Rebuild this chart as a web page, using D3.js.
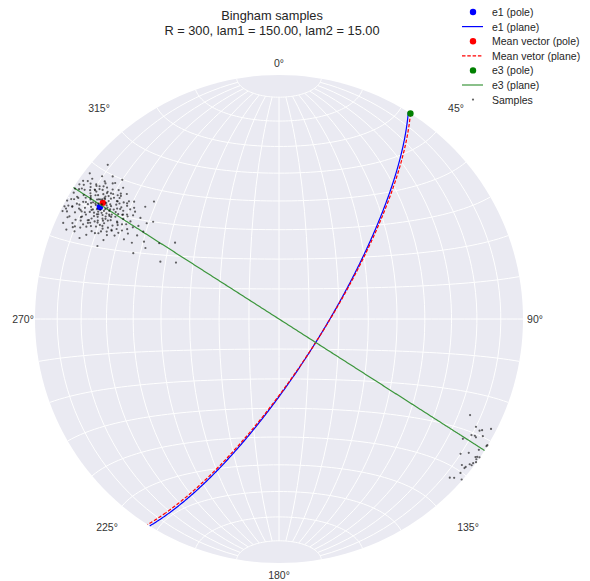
<!DOCTYPE html>
<html>
<head>
<meta charset="utf-8">
<script src="https://cdn.jsdelivr.net/npm/d3@7"></script>
<style>
  body { margin: 0; background: #ffffff; }
  text { font-family: "Liberation Sans", Arial, sans-serif; }
</style>
</head>
<body>
<svg id="chart" width="590" height="581"></svg>
<script>
// ---- data -------------------------------------------------------------
const titleLines = ["Bingham samples", "R = 300, lam1 = 150.00, lam2 = 15.00"];
const azimuthTicks = [0, 45, 90, 135, 180, 225, 270, 315];

// Poles as [trend, plunge] in degrees
const e1Pole = [302.0, 14.5];
const meanPole = [303.4, 14.6];
const e3Pole = [32.6, 0.0];

// Planes as [strike, dip] in degrees (right-hand rule)
const e1Plane = [32.0, 75.5];
const meanPlane = [32.6, 75.5];
const e3Plane = [122.6, 90.0];

// Sampled axes as [trend, plunge] (lower hemisphere)
const sampleTrendPlunge = [
  // north-west cluster
  [312.0, 6.2], [305.8, 3.8], [306.4, 7.7], [308.0, 10.7], [309.2, 13.1],
  [303.5, 3.5], [305.1, 8.5], [306.2, 13.7], [307.9, 19.0], [301.1, 4.4],
  [302.4, 9.4], [304.7, 14.1], [306.1, 19.3], [307.3, 22.8], [297.4, 1.9],
  [298.6, 4.0], [298.8, 7.9], [300.5, 12.5], [303.0, 18.6], [304.7, 21.9],
  [306.7, 27.3], [310.0, 29.2], [295.7, 4.3], [297.5, 9.9], [299.9, 15.0],
  [301.3, 19.8], [303.8, 24.1], [306.1, 30.4], [294.0, 8.3], [296.7, 13.4],
  [297.8, 19.3], [300.8, 23.9], [302.1, 30.0], [307.7, 35.1], [295.0, 17.9],
  [298.0, 23.3], [299.5, 29.6], [302.8, 34.2], [294.2, 22.2], [297.2, 29.3],
  [299.8, 36.4], [306.3, 46.1], [291.9, 20.9], [294.3, 34.8], [295.8, 45.1],
  [298.7, 50.2], [302.3, 41.5], [313.2, 30.4], [305.9, 33.5],
  [300.2, 12.1], [301.7, 10.4], [303.3, 11.8], [304.9, 9.6], [299.1, 14.3],
  [302.6, 13.2], [305.4, 12.7], [306.8, 15.1], [298.4, 11.0], [300.9, 16.4],
  [303.9, 15.8], [301.5, 18.2], [304.2, 17.5], [299.6, 17.9], [297.9, 15.6],
  [302.0, 20.3], [305.1, 19.6], [300.4, 21.1], [303.1, 22.4], [306.3, 17.2],
  [298.7, 19.4], [296.8, 17.1], [301.2, 8.3], [303.7, 7.9], [299.8, 9.2],
  [305.9, 10.1], [307.4, 12.3], [302.3, 16.9], [304.6, 14.5], [300.7, 14.9],
  [297.3, 12.8], [296.4, 10.2], [298.9, 7.1], [302.8, 9.0], [306.1, 8.2],
  [308.3, 9.9], [307.9, 14.7], [305.6, 16.4], [303.5, 19.9], [301.0, 23.6],
  [299.3, 22.8], [302.7, 25.1], [304.8, 23.3], [306.9, 21.5], [298.1, 21.6],
  [296.2, 19.8], [300.0, 19.0], [303.8, 13.0], [301.9, 12.6], [299.9, 13.6],
  [304.4, 11.1], [306.6, 13.6], [308.8, 16.8], [307.2, 19.1], [305.3, 21.9],
  [303.0, 17.3], [301.4, 15.3], [298.5, 16.6], [297.0, 14.2], [295.6, 13.5],
  [295.1, 16.3], [296.9, 21.9], [299.0, 24.9], [301.8, 27.2], [304.1, 26.0],
  [306.4, 25.2], [308.1, 22.9], [309.4, 20.4], [310.1, 17.6], [309.7, 13.8],
  [310.6, 11.2], [308.9, 7.6], [305.0, 6.4], [302.4, 5.8], [299.7, 5.2],
  [297.6, 6.3], [300.3, 3.1], [303.0, 2.6], [306.9, 4.8], [307.6, 2.4],
  [294.7, 11.3], [293.6, 14.9], [294.9, 7.4], [296.1, 4.9], [298.3, 2.2],
  [301.6, 1.4], [304.5, 3.3], [296.5, 1.0], [299.2, 0.6], [294.0, 3.6],
  [292.8, 6.1], [293.2, 9.7], [292.1, 12.8], [311.6, 15.2],
  [300.8, 11.3], [302.1, 11.0], [303.6, 12.4], [304.0, 10.2], [301.1, 13.9],
  [302.9, 14.6], [304.7, 16.2], [300.5, 17.2], [299.4, 15.8], [298.2, 13.9],
  [303.4, 16.5], [305.2, 14.0], [306.2, 11.4], [301.3, 20.6], [299.9, 20.2],
  [302.5, 18.7], [304.3, 20.8], [306.0, 19.0], [297.7, 18.2], [298.8, 10.1],
  [301.0, 9.5], [303.2, 8.6], [305.0, 8.8], [307.1, 10.8], [307.5, 17.8],
  [299.5, 11.9], [302.2, 12.1], [304.1, 13.6], [300.1, 15.5], [301.7, 16.8],
  [303.9, 18.2], [300.6, 18.6], [298.0, 16.9], [296.3, 15.1], [297.5, 13.2],
  [298.6, 8.7], [300.9, 7.2], [304.3, 7.0], [306.5, 9.4], [305.8, 15.0],
  [307.0, 16.0], [308.4, 18.4], [306.7, 23.4], [304.5, 25.4], [302.0, 22.0],
  [300.2, 24.5], [297.8, 23.5], [296.0, 22.6], [295.4, 19.2], [297.1, 19.9],
  [299.2, 18.5], [301.6, 19.4], [303.2, 21.1], [305.9, 20.4], [303.6, 23.9],
  [301.1, 25.8], [299.4, 27.0], [298.2, 26.2], [296.9, 25.4], [300.6, 28.5],
  [303.3, 28.0], [305.4, 27.5], [307.5, 26.1], [309.0, 24.6], [296.0, 8.0],
  [294.4, 9.0], [295.8, 11.8], [297.2, 9.6], [299.8, 6.4], [302.1, 7.2],
  [303.6, 4.9], [305.7, 5.5], [301.2, 3.7], [298.5, 4.0], [296.9, 2.9],
  [304.0, 1.5], [300.0, 1.9], [297.7, 0.8], [302.6, 0.9], [305.2, 2.0],
  [298.0, 38.0], [300.5, 33.0], [297.4, 32.6], [303.5, 31.5],
  // south-east group near the primitive
  [116.7, 13.4], [118.7, 8.8], [119.1, 6.6], [118.7, 5.7], [121.1, 8.7],
  [120.8, 7.3], [121.0, 6.5], [119.9, 4.1], [117.4, 2.4], [123.1, 11.0],
  [121.5, 0.3], [121.2, 0.2], [123.2, 2.4], [125.2, 5.4], [126.6, 8.1],
  [125.1, 1.8], [124.8, 1.2], [125.4, 0.9], [126.0, 0.2], [124.6, 0.2],
  [126.6, 1.0], [127.2, 1.0], [127.3, 2.0], [128.4, 2.7], [128.8, 2.8],
  [130.3, 2.8], [132.9, 5.0], [132.2, 3.5], [131.3, 0.4], [128.6, 4.6]
];

const legendItems = [
  { label: "e1 (pole)", kind: "dot", color: "#0000ff" },
  { label: "e1 (plane)", kind: "line", color: "#0000ff" },
  { label: "Mean vector (pole)", kind: "dot", color: "#ff0000" },
  { label: "Mean vetor (plane)", kind: "dash", color: "#ff0000" },
  { label: "e3 (pole)", kind: "dot", color: "#008000" },
  { label: "e3 (plane)", kind: "line", color: "#3c963c" },
  { label: "Samples", kind: "sample", color: "#000000" }
];

// ---- layout -----------------------------------------------------------
const cx = 279, cy = 319, R = 244;
const rad = Math.PI / 180;

const svg = d3.select("#chart");

// Lower-hemisphere equal-area net: nadir at the centre, north up, east right.
const projection = d3.geoAzimuthalEqualArea()
  .rotate([0, 0])
  .clipAngle(90)
  .scale(R / Math.SQRT2)
  .translate([cx, cy])
  .precision(0.1);
const path = d3.geoPath(projection);

// trend/plunge -> spherical lon/lat of the net
function toLonLat([trend, plunge]) {
  const t = trend * rad, p = plunge * rad;
  const down = Math.sin(p);
  const east = Math.cos(p) * Math.sin(t);
  const north = Math.cos(p) * Math.cos(t);
  return [Math.atan2(east, down) / rad, Math.asin(Math.max(-1, Math.min(1, north))) / rad];
}

// Great circle of a plane given as [strike, dip]
function planeLine([strike, dip]) {
  const pole = [strike - 90, 90 - dip];
  const ring = d3.geoCircle().center(toLonLat(pole)).radius(90).precision(0.5)().coordinates[0];
  return { type: "LineString", coordinates: ring };
}

// ---- net background and grid -------------------------------------------
svg.append("path")
  .datum({ type: "Sphere" })
  .attr("d", path)
  .attr("fill", "#eaeaf2");

const graticule = d3.geoGraticule()
  .extent([[-180, -80.0001], [180, 80.0001]])
  .step([10, 10]);

svg.append("path")
  .datum(graticule())
  .attr("d", path)
  .attr("fill", "none")
  .attr("stroke", "#ffffff")
  .attr("stroke-width", 1);

// ---- features ------------------------------------------------------------
const marks = svg.append("g");

function drawPole(pole, color) {
  const [x, y] = projection(toLonLat(pole));
  marks.append("circle").attr("cx", x).attr("cy", y).attr("r", 3.2).attr("fill", color);
}
function drawPlane(plane, color, dash) {
  marks.append("path")
    .datum(planeLine(plane))
    .attr("d", path)
    .attr("fill", "none")
    .attr("stroke", color)
    .attr("stroke-width", 1.2)
    .attr("stroke-dasharray", dash || null);
}

drawPole(e1Pole, "#0000ff");
drawPlane(e1Plane, "#0000ff");
drawPole(meanPole, "#ff0000");
drawPlane(meanPlane, "#ff0000", "3.5,1.8");
drawPole(e3Pole, "#008000");
drawPlane(e3Plane, "#3c963c");

marks.append("g")
  .selectAll("circle")
  .data(sampleTrendPlunge)
  .join("circle")
  .attr("cx", d => projection(toLonLat(d))[0])
  .attr("cy", d => projection(toLonLat(d))[1])
  .attr("r", 1.1)
  .attr("fill", "#000000")
  .attr("opacity", 0.6);

// ---- azimuth labels ------------------------------------------------------
// cardinal labels sit just outside the primitive; diagonal ones further out
function labelPos(a) {
  const s = Math.sin(a * rad), c = Math.cos(a * rad);
  if (a % 90 === 0) return [cx + 256 * s, cy - 256 * c];
  const upper = c > 0;
  const dx = upper ? (s > 0 ? 177 : -180) : (s > 0 ? 189 : -172);
  const dy = upper ? -211 : 208;
  return [cx + dx, cy + dy];
}

svg.append("g")
  .selectAll("text")
  .data(azimuthTicks)
  .join("text")
  .attr("x", a => labelPos(a)[0])
  .attr("y", a => labelPos(a)[1])
  .attr("text-anchor", "middle")
  .attr("dominant-baseline", "central")
  .attr("font-size", 10.5)
  .attr("fill", "#333333")
  .text(a => a + "°");

// ---- title -----------------------------------------------------------------
svg.append("g")
  .selectAll("text")
  .data(titleLines)
  .join("text")
  .attr("x", 272)
  .attr("y", (d, i) => 15 + i * 15.5)
  .attr("text-anchor", "middle")
  .attr("dominant-baseline", "central")
  .attr("font-size", 12.8)
  .attr("fill", "#262626")
  .text(d => d);

// ---- legend ---------------------------------------------------------------
const legend = svg.append("g").attr("transform", "translate(462, 12)");
const rows = legend.selectAll("g")
  .data(legendItems)
  .join("g")
  .attr("transform", (d, i) => `translate(0, ${i * 14.6})`);

rows.each(function (d) {
  const g = d3.select(this);
  if (d.kind === "dot") {
    g.append("circle").attr("cx", 11).attr("cy", 0).attr("r", 3.2).attr("fill", d.color);
  } else if (d.kind === "sample") {
    g.append("circle").attr("cx", 11).attr("cy", 0).attr("r", 1.1).attr("fill", d.color).attr("opacity", 0.6);
  } else {
    g.append("line")
      .attr("x1", 0).attr("x2", 21).attr("y1", 0).attr("y2", 0)
      .attr("stroke", d.color)
      .attr("stroke-width", 1.2)
      .attr("stroke-dasharray", d.kind === "dash" ? "3.5,1.8" : null);
  }
  g.append("text")
    .attr("x", 30)
    .attr("y", 0)
    .attr("dominant-baseline", "central")
    .attr("font-size", 10.5)
    .attr("fill", "#262626")
    .text(d.label);
});
</script>
</body>
</html>
